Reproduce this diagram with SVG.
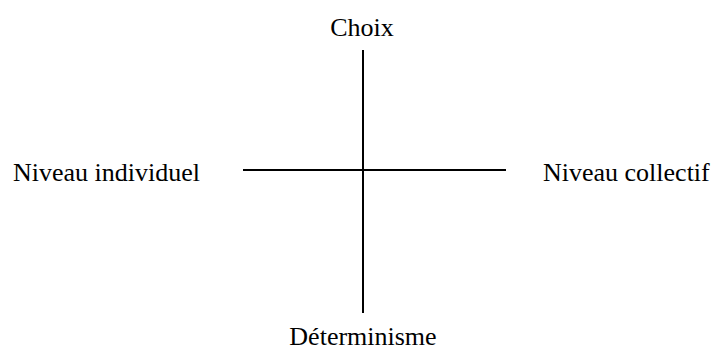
<svg xmlns="http://www.w3.org/2000/svg" width="715" height="350" viewBox="0 0 715 350">
<style>
text{font-family:"Liberation Serif","Times New Roman",serif;font-size:26px;fill:#000}
.ln{stroke:#000;stroke-width:2;fill:none}
</style>
<rect width="715" height="350" fill="#fff"/>
<g id="connectors">
<line class="ln" x1="363" y1="50" x2="363" y2="313"/>
<line class="ln" x1="243" y1="170" x2="506" y2="170"/>
</g>
<g id="choix"><text x="362" y="36" text-anchor="middle">Choix</text></g>
<g id="individuel"><text x="13" y="181">Niveau individuel</text></g>
<g id="collectif"><text x="543" y="181">Niveau collectif</text></g>
<g id="determinisme"><text x="363" y="345" text-anchor="middle">Déterminisme</text></g>
</svg>
